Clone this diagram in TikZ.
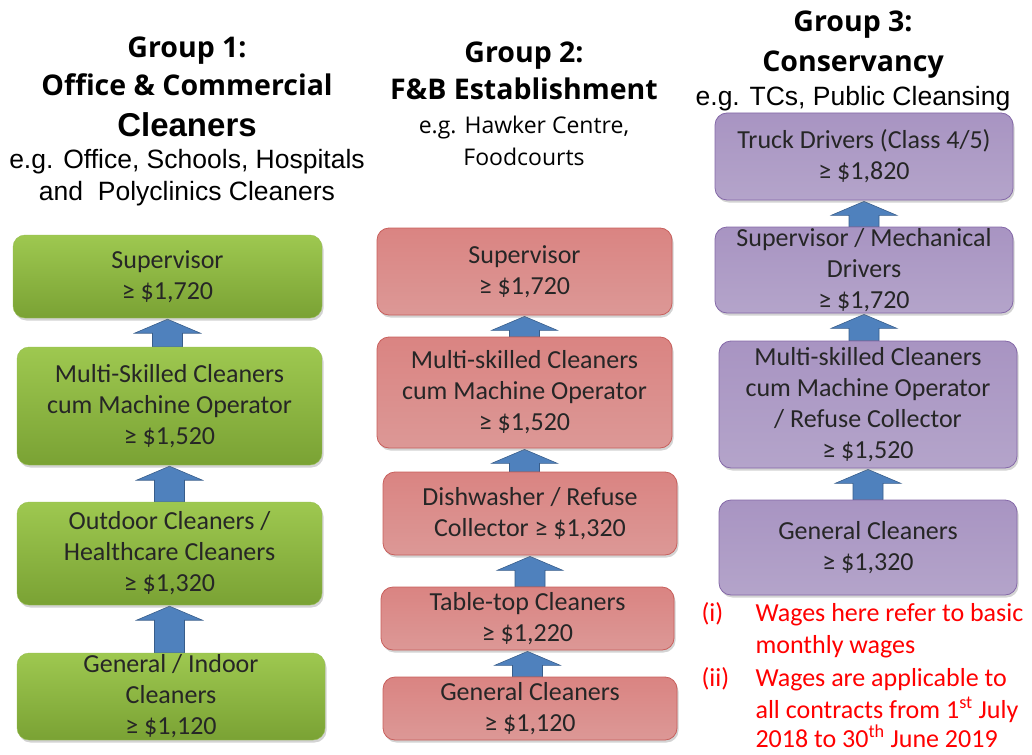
\documentclass[tikz,border=0pt]{standalone}
\usepackage{fontspec}
\setmainfont{Carlito}
\newfontfamily\headfont{Open Sans}
\newfontfamily\arialfont{Liberation Sans}
\usetikzlibrary{shadows,calc}
\pgfdeclarelayer{background}
\pgfsetlayers{background,main}
\definecolor{gtop}{RGB}{158,200,80}
\definecolor{gbot}{RGB}{122,162,52}
\definecolor{gborder}{RGB}{150,190,80}
\definecolor{rtop}{RGB}{218,132,130}
\definecolor{rbot}{RGB}{220,152,150}
\definecolor{rborder}{RGB}{200,95,92}
\definecolor{ptop}{RGB}{168,148,194}
\definecolor{pbot}{RGB}{180,164,202}
\definecolor{pborder}{RGB}{132,104,168}
\definecolor{afill}{RGB}{79,129,189}
\definecolor{aborder}{RGB}{56,93,138}
\definecolor{notered}{RGB}{255,0,0}
\newcommand\upconn[2]{%
  \begin{pgfonlayer}{background}
  \draw[blk] let \p1=(#1.north), \p2=(#2.south) in
    (\x2-15pt,\y1) -- (\x2-15pt,\y2-15pt) -- (\x2-33pt,\y2-15pt) -- (\x2,\y2-1pt)
    -- (\x2+33pt,\y2-15pt) -- (\x2+15pt,\y2-15pt) -- (\x2+15pt,\y1) -- cycle;
  \end{pgfonlayer}}
\begin{document}
\begin{tikzpicture}[x=1pt,y=-1pt,
  box/.style={rounded corners=12pt, align=center, inner sep=0pt,
    font=\fontsize{26}{31}\selectfont, text=black!85,
    drop shadow={shadow xshift=1.5pt, shadow yshift=-2.5pt, opacity=0.35}},
  gbox/.style={box, draw=gborder, top color=gtop, bottom color=gbot},
  rbox/.style={box, draw=rborder, line width=0.8pt, top color=rtop, bottom color=rbot},
  pbox/.style={box, draw=pborder, line width=0.8pt, top color=ptop, bottom color=pbot},
  blk/.style={draw=aborder, fill=afill, line width=0.6pt},
  grp/.style={anchor=base, font=\headfont\bfseries\fontsize{28.5}{32}\selectfont},
  sub/.style={anchor=base, font=\arialfont\fontsize{26.5}{30}\selectfont},
  note/.style={anchor=base west, text=notered, font=\fontsize{26}{30}\selectfont}
]
\useasboundingbox (0,0) rectangle (1032,754);

% ---------- Group 1 headings ----------
\node[grp] (h1a) at (187,58) {Group 1:};
\node[grp] (h1b) at (187,96) {Office \& Commercial};
\node[anchor=base, font=\arialfont\bfseries\fontsize{33}{36}\selectfont] (h1c) at (187,137) {Cleaners};
\node[sub] (h1d) at (187,168) {e.g. Office, Schools, Hospitals};
\node[sub] (h1e) at (187,200) {and\ \ Polyclinics Cleaners};

% ---------- Group 2 headings ----------
\node[grp] (h2a) at (524,63) {Group 2:};
\node[grp] (h2b) at (524,100) {F\&B Establishment};
\node[anchor=base, font=\headfont\fontsize{23}{26}\selectfont] (h2c) at (524,134) {e.g. Hawker Centre,};
\node[anchor=base, font=\headfont\fontsize{23}{26}\selectfont] (h2d) at (524,165) {Foodcourts};

% ---------- Group 3 headings ----------
\node[grp] (h3a) at (853,32) {Group 3:};
\node[grp] (h3b) at (853,72) {Conservancy};
\node[sub] (h3c) at (853,106) {e.g. TCs, Public Cleansing};

% ---------- Group 1 boxes ----------
\node[gbox, minimum width=309, minimum height=83] (a1) at (167.5,276.5) {Supervisor\\≥ \$1,720};
\node[gbox, minimum width=305, minimum height=118] (a2) at (169.5,406) {Multi-Skilled Cleaners\\cum Machine Operator\\≥ \$1,520};
\node[gbox, minimum width=305, minimum height=103] (a3) at (169.5,553.5) {Outdoor Cleaners /\\Healthcare Cleaners\\≥ \$1,320};
\node[gbox, minimum width=308, minimum height=87] (a4) at (171,696.5) {General / Indoor\\Cleaners\\≥ \$1,120};

% ---------- Group 2 boxes ----------
\node[rbox, minimum width=295, minimum height=87] (b1) at (524.5,271.5) {Supervisor\\≥ \$1,720};
\node[rbox, minimum width=295, minimum height=111] (b2) at (524.5,392.5) {Multi-skilled Cleaners\\cum Machine Operator\\≥ \$1,520};
\node[rbox, minimum width=294, minimum height=83] (b3) at (530,513.5) {Dishwasher / Refuse\\Collector ≥ \$1,320};
\node[rbox, minimum width=293, minimum height=63] (b4) at (527.5,618.5) {Table-top Cleaners\\≥ \$1,220};
\node[rbox, minimum width=294, minimum height=63] (b5) at (530,708.5) {General Cleaners\\≥ \$1,120};

% ---------- Group 3 boxes ----------
\node[pbox, minimum width=298, minimum height=87] (c1) at (864,156.5) {Truck Drivers (Class 4/5)\\≥ \$1,820};
\node[pbox, minimum width=298, minimum height=86] (c2) at (864,270) {Supervisor / Mechanical\\Drivers\\≥ \$1,720};
\node[pbox, minimum width=298, minimum height=127] (c3) at (868,404.5) {Multi-skilled Cleaners\\cum Machine Operator\\/ Refuse Collector\\≥ \$1,520};
\node[pbox, minimum width=298, minimum height=95] (c4) at (868,547.5) {General Cleaners\\≥ \$1,320};

% ---------- connectors ----------
\upconn{a2}{a1}
\upconn{a3}{a2}
\upconn{a4}{a3}
\upconn{b2}{b1}
\upconn{b3}{b2}
\upconn{b4}{b3}
\upconn{b5}{b4}
\upconn{c2}{c1}
\upconn{c3}{c2}
\upconn{c4}{c3}

% ---------- notes ----------
\node[note] (n1) at (698,621) {(i)};
\node[note] (n1a) at (752,621) {Wages here refer to basic};
\node[note] (n1b) at (752,653) {monthly wages};
\node[note] (n2) at (698,686) {(ii)};
\node[note] (n2a) at (752,686) {Wages are applicable to};
\node[note] (n2b) at (752,718) {all contracts from 1\textsuperscript{st} July};
\node[note] (n2c) at (752,747) {2018 to 30\textsuperscript{th} June 2019};
\end{tikzpicture}
\end{document}
